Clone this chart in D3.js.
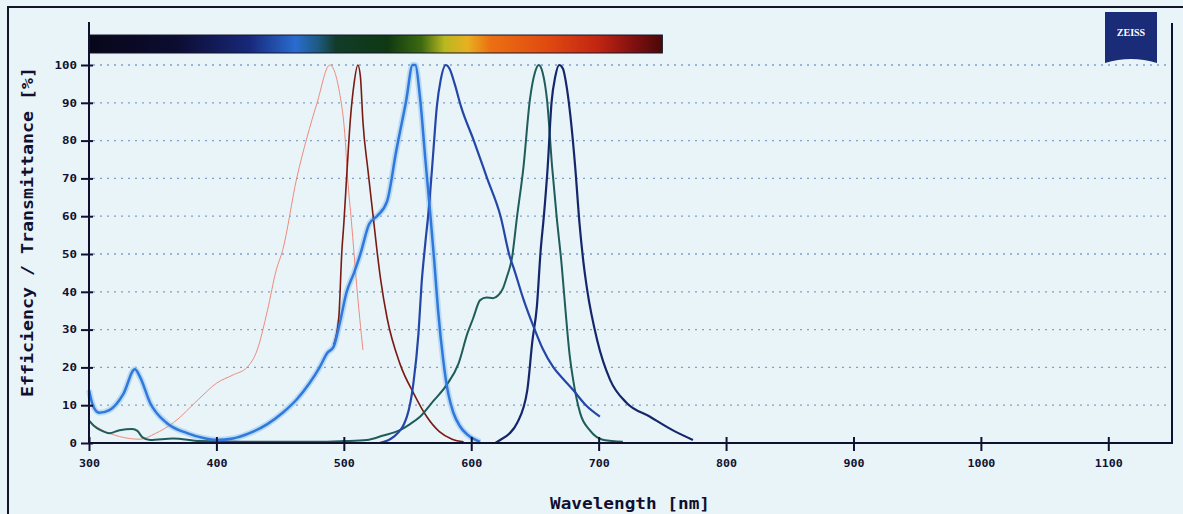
<!DOCTYPE html>
<html>
<head>
<meta charset="utf-8">
<script src="https://cdn.jsdelivr.net/npm/d3@7"></script>
<style>
  body { margin: 0; background: #e8f4f7; }
  svg { display: block; }
  .tick text { font-family: "DejaVu Sans Mono", monospace; font-weight: bold; font-size: 10px; fill: #101030; }
</style>
</head>
<body>
<svg id="chart"></svg>
<script>
// spectra: [wavelength nm, efficiency %]
const pinkCurve = [[300,5.6],[310,3.5],[324,1.7],[340,1],[352,2.5],[366,5.3],[387,11.9],[400,15.8],[413,18],[424,20],[432,24.6],[440,35],[447,45.8],[452,51],[463,70],[471,80.7],[479,90],[489,100],[497,92],[501,80.7],[503,70],[506,58.5],[510,42],[515,24.6]];
const redCurve = [[492,26],[496,33],[498.5,51],[500,58],[502.5,72],[505,85],[508,95],[511,100],[513,97],[515,85],[519,72],[523,60],[526,51],[529,43],[534,33],[544,21],[555,13],[565,7],[575,3],[585,1],[594,0.3]];
const blueCurve = [[300,14],[303,10],[308,8],[316,8.7],[327,13],[336,19.5],[340,17.5],[348,10.6],[361,5.3],[377,2.6],[390,1.3],[400,0.8],[413,1.2],[426,2.6],[440,5],[452,8],[463,11.5],[473,15.8],[481,20],[487,23.8],[492,25.5],[497,32],[502,39.7],[508,45],[513,50],[520,58],[526,60],[534,64],[541,77],[549,90.7],[554,100],[556,100],[560,90.7],[564,75],[568,60],[571,48],[574,35],[578,22],[582,13],[586,8],[591,4.5],[597,2.2],[607,0.3]];
const darkBlueCurve = [[528,0],[539,1.6],[549.5,7],[554.6,15.8],[558.6,29],[561,42],[564,53],[567,63],[570,76],[573,89],[576,96],[580,100],[583,99],[587,95],[592,89],[602,80],[612.5,70],[623,60],[630.5,49],[633,46.6],[641,38],[649,30.7],[656,25],[664.5,20],[672,17],[680,14],[690,10],[701,7]];
const tealCurve = [[300,6],[304,4.5],[309,3.4],[316,2.6],[324,3.4],[334,3.7],[338,3.2],[342,1.5],[348,0.8],[366,1.2],[387,0.5],[420,0.3],[480,0.3],[500,0.5],[518,0.8],[531,2],[544,3.4],[552,5],[560,7],[570,11],[581,15.5],[590,21],[597,29],[601.5,33],[607,37.8],[612,38.5],[617,38.3],[621,39],[625,41],[628,44],[632,49],[636,60],[641,73],[646,90.7],[650,98],[653,100],[656,98],[659.5,90.7],[663.5,73],[667,60],[671,47],[674,35],[677,24],[680,16.7],[685.5,7.9],[693,3.4],[704,0.8],[719,0.3]];
const navyCurve = [[619,0],[622.7,0.8],[630,2.5],[636,5.3],[644,14],[648,27],[651.5,36],[654.5,51],[657,60],[660,73],[663,90],[666,97],[669,100],[672,99],[675,94],[678,86],[681.6,73],[685,58],[688,48],[691,40.5],[699,27],[709,16.7],[722,10.6],[740,7],[758,3.4],[774,0.8]];

const xTicks = [300, 400, 500, 600, 700, 800, 900, 1000, 1100];
const yTicks = [0, 10, 20, 30, 40, 50, 60, 70, 80, 90, 100];

const W = 1183, H = 514;
const svg = d3.select("#chart").attr("width", W).attr("height", H);

svg.append("rect").attr("width", W).attr("height", H).attr("fill", "#e8f4f7");

// outer frame (left + top visible)
svg.append("path")
    .attr("d", `M8,${H} L8,7 L${W},7`)
    .attr("fill", "none").attr("stroke", "#15152a").attr("stroke-width", 2);

const x = d3.scaleLinear().domain([300, 1150]).range([89, 1172]);
const y = d3.scaleLinear().domain([0, 100]).range([443, 65]);

// dotted gridlines
svg.append("g")
    .selectAll("line")
    .data(yTicks.filter(d => d > 0))
    .enter()
    .append("line")
    .attr("x1", x(300) + 4).attr("x2", x(1150) - 4)
    .attr("y1", d => y(d)).attr("y2", d => y(d))
    .attr("stroke", "#7f9fd0")
    .attr("stroke-width", 1.3)
    .attr("stroke-dasharray", "2,5");

// spectrum bar
const grad = svg.append("defs").append("linearGradient").attr("id", "spec");
[[0, "#07071a"], [0.15, "#0c0c30"], [0.28, "#18287a"], [0.36, "#2a6cd0"], [0.4, "#1d5a80"], [0.43, "#123c2a"], [0.52, "#0f3812"],
 [0.58, "#3c6a10"], [0.62, "#b8b820"], [0.66, "#e8b020"], [0.7, "#ec7012"], [0.8, "#e04a10"], [0.89, "#c02412"], [0.95, "#801010"], [1, "#4a0808"]]
    .forEach(s => grad.append("stop").attr("offset", s[0]).attr("stop-color", s[1]));
svg.append("rect")
    .attr("x", x(300)).attr("y", 35)
    .attr("width", x(750) - x(300)).attr("height", 18)
    .attr("fill", "url(#spec)")
    .attr("stroke", "#15152a").attr("stroke-width", 1);

// curves
const line = d3.line().x(d => x(d[0])).y(d => y(d[1])).curve(d3.curveMonotoneX);
const series = [
    {data: pinkCurve, color: "#f08a80", w: 1},
    {data: redCurve, color: "#7a1a14", w: 1.6},
    {data: tealCurve, color: "#1f5c5a", w: 2},
    {data: navyCurve, color: "#15276a", w: 2.2},
    {data: darkBlueCurve, color: "#2446a8", w: 2.2},
    {data: blueCurve, color: "#2f78dc", w: 2.5}
];
// light halo behind the bright blue
svg.append("path")
    .attr("d", line(blueCurve))
    .attr("fill", "none").attr("stroke", "#9cc8f0").attr("stroke-width", 6).attr("opacity", 0.6);
series.forEach(s => {
    svg.append("path")
        .attr("d", line(s.data))
        .attr("fill", "none")
        .attr("stroke", s.color)
        .attr("stroke-width", s.w)
        .attr("stroke-linejoin", "round");
});

// axes
const xAxis = svg.append("g")
    .attr("transform", `translate(0,${y(0)})`)
    .call(d3.axisBottom(x).tickValues(xTicks).tickFormat(d3.format("d")).tickSize(8).tickPadding(6));
xAxis.select(".domain").remove();
xAxis.selectAll(".tick line").attr("y1", -6).attr("y2", 8).attr("stroke", "#101030").attr("stroke-width", 2);
xAxis.selectAll(".tick text").attr("dy", "0.95em").attr("textLength", d => String(d).length * 7).attr("lengthAdjust", "spacingAndGlyphs");

const yAxis = svg.append("g")
    .attr("transform", `translate(${x(300)},0)`)
    .call(d3.axisLeft(y).tickValues(yTicks).tickSize(8).tickPadding(4));
yAxis.select(".domain").remove();
yAxis.selectAll(".tick line").attr("x1", 4).attr("x2", -8).attr("stroke", "#101030").attr("stroke-width", 2);
yAxis.selectAll(".tick text").attr("textLength", d => String(d).length * 7.5).attr("lengthAdjust", "spacingAndGlyphs");

// axis lines
svg.append("path")
    .attr("d", `M${x(300)},22 L${x(300)},${y(0)} L${x(1150)},${y(0)} L${x(1150)},23`)
    .attr("fill", "none").attr("stroke", "#101030").attr("stroke-width", 2);

// axis labels
svg.append("text")
    .attr("x", 630).attr("y", 509)
    .attr("text-anchor", "middle")
    .attr("font-family", "DejaVu Sans Mono, monospace")
    .attr("font-weight", "bold").attr("font-size", 15)
    .attr("fill", "#101030")
    .attr("textLength", 160).attr("lengthAdjust", "spacingAndGlyphs")
    .text("Wavelength [nm]");
svg.append("text")
    .attr("transform", "translate(33,232) rotate(-90)")
    .attr("text-anchor", "middle")
    .attr("font-family", "DejaVu Sans Mono, monospace")
    .attr("font-weight", "bold").attr("font-size", 15)
    .attr("fill", "#101030")
    .attr("textLength", 330).attr("lengthAdjust", "spacingAndGlyphs")
    .text("Efficiency / Transmittance [%]");

// ZEISS logo
const logo = svg.append("g");
logo.append("path")
    .attr("d", "M1105,12 L1157,12 L1157,63 Q1131,55 1105,63 Z")
    .attr("fill", "#1a2b78");
logo.append("text")
    .attr("x", 1131).attr("y", 36)
    .attr("text-anchor", "middle")
    .attr("font-family", "Liberation Serif, serif")
    .attr("font-weight", "bold").attr("font-size", 10)
    .attr("fill", "#ffffff")
    .text("ZEISS");
</script>
</body>
</html>
